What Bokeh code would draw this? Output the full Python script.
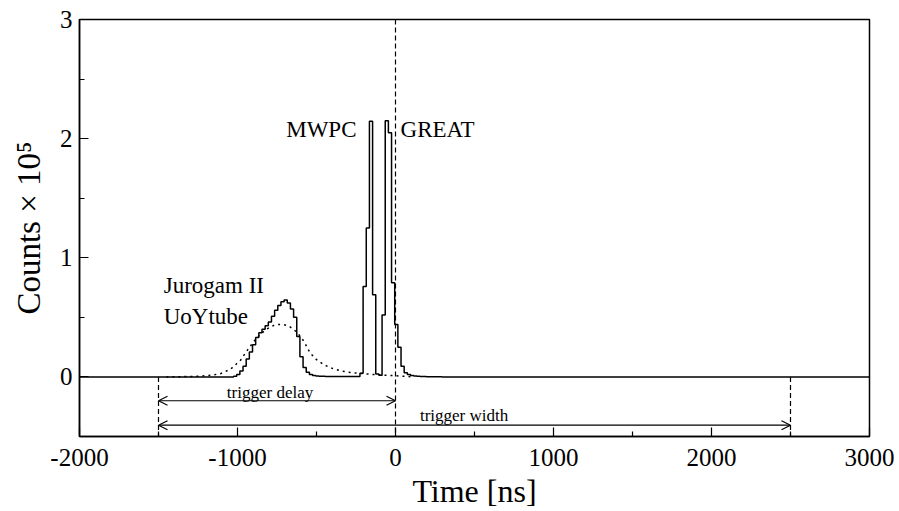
import numpy as np
from bokeh.plotting import figure
from bokeh.models import FixedTicker, Arrow, OpenHead, Label, ColumnDataSource
from bokeh.embed import file_html
from bokeh.resources import INLINE

FONT = "Liberation Serif"

# Summed detector timing histogram (Jurogam II, MWPC, GREAT):
# 20 ns bins, first bin starts at -1025 ns; counts in units of 1e5
hist_start = -1025
hist_width = 20
hist_counts = [
    0.005, 0.02, 0.05, 0.09, 0.15, 0.21, 0.27, 0.33, 0.37, 0.40,
    0.43, 0.46, 0.51, 0.56, 0.60, 0.63, 0.645, 0.62, 0.57, 0.50,
    0.34, 0.17, 0.08, 0.04, 0.02, 0.012, 0.008, 0.006, 0.005,
    0.004, 0.004, 0.003, 0.003, 0.003, 0.003, 0.003, 0.003, 0.003, 0.003, 0.004,
    0.03, 0.76, 1.25, 2.145, 0.69, 0.025, 0.015, 0.52, 2.15, 2.05,
    0.79, 0.44, 0.25, 0.09, 0.035, 0.02, 0.012, 0.008, 0.006, 0.004,
    0.003, 0.002, 0.002, 0.001, 0.001, 0.001,
]

# UoYtube timing distribution (counts in units of 1e5)
uoy_time = [-1450, -1350, -1250, -1170, -1108, -1044, -981, -950, -918, -886,
            -854, -822, -791, -765, -738, -710, -680, -650, -620, -580,
            -540, -500, -450, -400, -348, -300, -264, -200, -137, -80,
            0, 60, 120]
uoy_counts = [0.0, 0.002, 0.006, 0.014, 0.027, 0.065, 0.14, 0.20, 0.26, 0.315,
              0.36, 0.395, 0.42, 0.435, 0.44, 0.44, 0.43, 0.405, 0.37, 0.30,
              0.20, 0.145, 0.10, 0.072, 0.052, 0.04, 0.034, 0.027, 0.02, 0.015,
              0.01, 0.005, 0.0]

# trigger window (ns)
trigger_open = -1500
trigger_ref = 0
trigger_close = 2500

x_ticks = [-2000, -1000, 0, 1000, 2000, 3000]
x_minor = [-1500, -500, 500, 1500, 2500]
y_ticks = [0, 1, 2, 3]
y_minor = [-0.5, 0.5, 1.5, 2.5]

x_lo, x_hi = -2000, 3000
y_lo, y_hi = -0.5, 3

p = figure(width=899, height=511, x_range=(x_lo, x_hi), y_range=(y_lo, y_hi),
           output_backend="svg", toolbar_location=None,
           min_border_left=79, min_border_right=30,
           min_border_top=19, min_border_bottom=73)
p.background_fill_color = "white"
p.border_fill_color = "white"
p.outline_line_color = "black"
p.outline_line_width = 1.5
p.xgrid.grid_line_color = None
p.ygrid.grid_line_color = None

# step outline of the histogram, flat zero outside the filled bins
n = len(hist_counts)
edges = hist_start + hist_width * np.arange(n + 1)
xs = [x_lo]
ys = [0.0]
for i in range(n):
    xs += [edges[i], edges[i]]
    ys += [ys[-1], hist_counts[i]]
xs += [edges[-1], edges[-1], x_hi]
ys += [hist_counts[-1], 0.0, 0.0]
p.line(xs, ys, line_color="black", line_width=1.5)

# UoYtube distribution, dotted
p.line(uoy_time, uoy_counts, line_color="black", line_width=1.5, line_dash="2 4")

# trigger markers
seg = ColumnDataSource(dict(
    x=[trigger_open, trigger_ref, trigger_close],
    y0=[0, y_hi, 0],
    y1=[y_lo, y_lo, y_lo],
))
p.segment(x0="x", y0="y0", x1="x", y1="y1", source=seg,
          line_color="black", line_width=1.2, line_dash="5 3")

p.add_layout(Arrow(start=OpenHead(size=9, line_width=1.2), end=OpenHead(size=9, line_width=1.2),
                   x_start=trigger_open, y_start=-0.2, x_end=trigger_ref, y_end=-0.2,
                   line_width=1.2))
p.add_layout(Arrow(start=OpenHead(size=9, line_width=1.2), end=OpenHead(size=9, line_width=1.2),
                   x_start=trigger_open, y_start=-0.405, x_end=trigger_close, y_end=-0.405,
                   line_width=1.2))

def label(x, y, text, size, align="left"):
    p.add_layout(Label(x=x, y=y, text=text, text_font=FONT, text_font_size=size,
                       text_align=align, text_baseline="alphabetic", text_color="black"))

label(-794, -0.128, "trigger delay", "17px", "center")
label(434, -0.32, "trigger width", "17px", "center")
label(-247, 2.08, "MWPC", "23px", "right")
label(32, 2.08, "GREAT", "23px", "left")
label(-1467, 0.77, "Jurogam II", "23px", "left")
label(-1467, 0.51, "UoYtube", "23px", "left")

for ax in (p.xaxis[0], p.yaxis[0]):
    ax.axis_line_color = "black"
    ax.axis_line_width = 1.5
    ax.major_tick_in = 9
    ax.major_tick_out = 0
    ax.minor_tick_in = 5
    ax.minor_tick_out = 0
    ax.major_tick_line_width = 1.2
    ax.minor_tick_line_width = 1.2
    ax.major_label_text_font = FONT
    ax.major_label_text_font_size = "25px"
    ax.major_label_text_color = "black"
    ax.axis_label_text_font = FONT
    ax.axis_label_text_font_style = "normal"
    ax.axis_label_text_color = "black"

p.xaxis.ticker = FixedTicker(ticks=x_ticks, minor_ticks=x_minor)
p.yaxis.ticker = FixedTicker(ticks=y_ticks, minor_ticks=y_minor)
p.xaxis.major_label_overrides = {t: f"{t:d}".replace("\u2212", "-") for t in x_ticks}
p.xaxis.axis_label = "Time [ns]"
p.xaxis.axis_label_text_font_size = "32px"
p.xaxis.major_label_standoff = 12
p.xaxis.axis_label_standoff = 4
p.yaxis.axis_label = "Counts × 10⁵"
p.yaxis.axis_label_text_font_size = "33px"
p.yaxis.major_label_standoff = 7
p.yaxis.axis_label_standoff = 10

open("out.html", "w").write(file_html(p, INLINE))
